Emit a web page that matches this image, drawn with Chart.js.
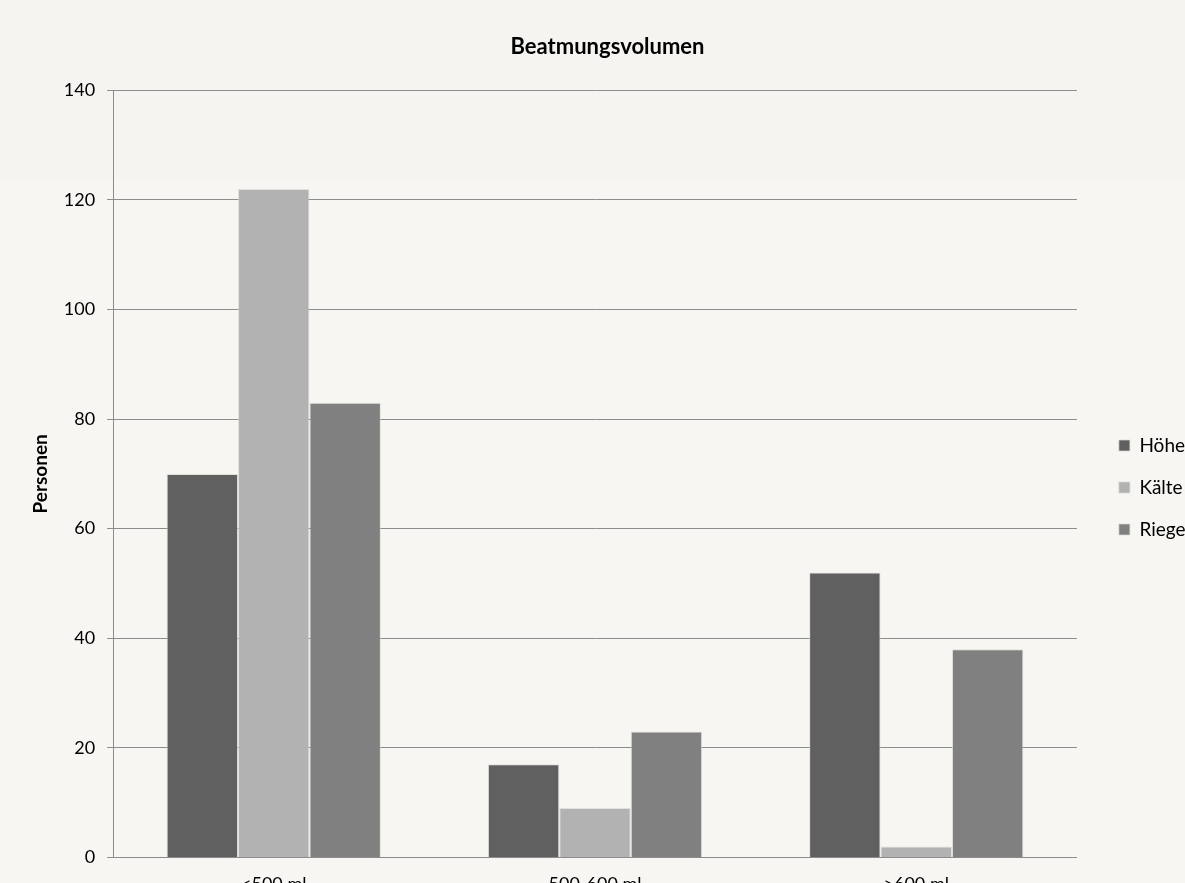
<!DOCTYPE html>
<html>
<head>
<meta charset="utf-8">
<script src="https://cdn.jsdelivr.net/npm/chart.js@4/dist/chart.umd.min.js"></script>
<style>
    html, body { margin: 0; padding: 0; overflow: hidden; background: #f7f6f2; }
    #wrap { position: relative; width: 1200px; height: 903px; }
</style>
</head>
<body>
<div id="wrap"><canvas id="chart"></canvas></div>
<script>
const categories = ['<500 ml', '500-600 ml', '>600 ml'];
const hoehe = [70, 17, 52];
const kaelte = [122, 9, 2];
const riegel = [83, 23, 38];
const yTicks = { min: 0, max: 140, step: 20 };

const FONT = 'Lato, "Open Sans", sans-serif';

// two-tone page background like the original export
const background = {
    id: 'background',
    beforeDraw(chart) {
        const { ctx, width, height } = chart;
        ctx.save();
        ctx.fillStyle = '#f7f6f2';
        ctx.fillRect(0, 0, width, height);
        ctx.fillStyle = '#f5f4f0';
        ctx.fillRect(0, 0, width, 178);
        ctx.restore();
    },
};

function dataset(label, data, color) {
    return {
        label,
        data,
        backgroundColor: color,
        borderColor: 'rgba(215,215,210,0.7)',
        borderWidth: 1,
        borderSkipped: 'bottom',
        categoryPercentage: 0.667,
        barPercentage: 1.0,
    };
}

new Chart(document.getElementById('chart'), {
    type: 'bar',
    data: {
        labels: categories,
        datasets: [
            dataset('Höhe', hoehe, '#606060'),
            dataset('Kälte', kaelte, '#b2b2b2'),
            dataset('Riegel', riegel, '#808080'),
        ],
    },
    options: {
        responsive: true,
        maintainAspectRatio: false,
        animation: false,
        layout: { padding: { left: 15, right: 0, top: 0, bottom: 0 } },
        plugins: {
            title: {
                display: true,
                text: 'Beatmungsvolumen',
                color: '#000',
                font: { family: FONT, size: 22, weight: 'bold' },
                padding: { top: 34, bottom: 30 },
            },
            legend: {
                position: 'right',
                title: { display: true, text: ' ', padding: 30, font: { size: 10 } },
                labels: {
                    color: '#000',
                    boxWidth: 11,
                    boxHeight: 11,
                    padding: 23,
                    font: { family: FONT, size: 19 },
                },
            },
            tooltip: { enabled: false },
        },
        scales: {
            x: {
                grid: { display: false },
                border: { display: true, color: '#8c8c8c' },
                ticks: { color: '#000', font: { family: FONT, size: 18 }, padding: 8 },
            },
            y: {
                min: yTicks.min,
                max: yTicks.max,
                ticks: {
                    stepSize: yTicks.step,
                    color: '#000',
                    padding: 12,
                    font: { family: FONT, size: 18 },
                },
                grid: { color: '#8c8c8c', tickLength: 6, lineWidth: 1 },
                border: { display: true, color: '#8c8c8c' },
                title: {
                    display: true,
                    text: 'Personen',
                    color: '#000',
                    font: { family: FONT, size: 19, weight: 'bold' },
                    padding: { top: 14, bottom: 0 },
                },
            },
            gap: {
                type: 'linear',
                position: 'right',
                display: true,
                grid: { display: false },
                border: { display: false },
                ticks: { display: false },
                afterFit(scale) { scale.width = 19; },
            },
        },
    },
    plugins: [background],
});
</script>
</body>
</html>
